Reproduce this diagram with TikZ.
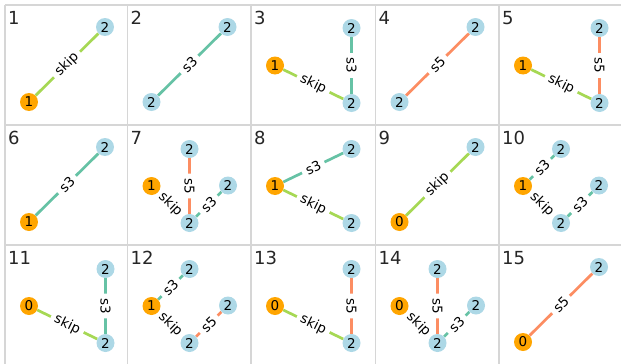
\documentclass[tikz,border=0pt]{standalone}
\usepackage{fontspec}
\setmainfont{DejaVu Sans}
\usetikzlibrary{backgrounds}
\definecolor{op-skip}{HTML}{A6D854}
\definecolor{op-sthree}{HTML}{66C2A5}
\definecolor{op-sfive}{HTML}{FC8D62}
\definecolor{nd-in}{HTML}{FFA500}
\definecolor{nd-hid}{HTML}{ADD8E6}
\definecolor{grid-gray}{HTML}{D6D6D6}

\tikzset{
  vtx/.style={circle, minimum size=18pt, inner sep=0pt, font=\fontsize{13.5}{13.5}\selectfont},
  inp/.style={vtx, fill=nd-in},
  hid/.style={vtx, fill=nd-hid},
  elab/.style={sloped, fill=white, text=black, inner xsep=4.5pt, inner ysep=1.5pt,
    rounded corners=3pt, font=\fontsize{13.5}{13.5}\selectfont},
  eskip/.style={line width=2.7pt, op-skip},
  esthree/.style={line width=2.7pt, op-sthree},
  esfive/.style={line width=2.7pt, op-sfive},
  num/.style={anchor=base west, inner sep=0pt, text=black!85, font=\fontsize{18}{18}\selectfont},
  gridline/.style={line width=1.6pt, grid-gray}
}

\begin{document}
\begin{tikzpicture}[x=1pt, y=-1pt]
    \useasboundingbox (0,0) rectangle (621,364);
    \begin{pgfonlayer}{background}
        \foreach \x in {5,127.5,251,375.5,499}
            \draw[gridline] (\x,5) -- (\x,364);
        \foreach \y in {5,125,245}
            \draw[gridline] (5,\y) -- (621,\y);
    \end{pgfonlayer}

    % row 1
    \begin{scope}[shift={(5,5)}]
        \node[num] at (3,19) {1};
        \node[inp] (c1a) at (24,97) {1};
        \node[hid] (c1b) at (100,22) {2};
        \begin{pgfonlayer}{background}
            \draw[eskip] (c1a) -- node[elab] {skip} (c1b);
        \end{pgfonlayer}
    \end{scope}
    \begin{scope}[shift={(127.5,5)}]
        \node[num] at (3,19) {2};
        \node[hid] (c2a) at (24,97) {2};
        \node[hid] (c2b) at (100,22) {2};
        \begin{pgfonlayer}{background}
            \draw[esthree] (c2a) -- node[elab] {s3} (c2b);
        \end{pgfonlayer}
    \end{scope}
    \begin{scope}[shift={(251,5)}]
        \node[num] at (3,19) {3};
        \node[inp] (c3a) at (24,60.5) {1};
        \node[hid] (c3b) at (100.5,23) {2};
        \node[hid] (c3c) at (100.5,98) {2};
        \begin{pgfonlayer}{background}
            \draw[eskip] (c3a) -- node[elab] {skip} (c3c);
            \draw[esthree] (c3b) -- node[elab] {s3} (c3c);
        \end{pgfonlayer}
    \end{scope}
    \begin{scope}[shift={(375.5,5)}]
        \node[num] at (3,19) {4};
        \node[hid] (c4a) at (24,97) {2};
        \node[hid] (c4b) at (100,22) {2};
        \begin{pgfonlayer}{background}
            \draw[esfive] (c4a) -- node[elab] {s5} (c4b);
        \end{pgfonlayer}
    \end{scope}
    \begin{scope}[shift={(499,5)}]
        \node[num] at (3,19) {5};
        \node[inp] (c5a) at (24,60.5) {1};
        \node[hid] (c5b) at (100.5,23) {2};
        \node[hid] (c5c) at (100.5,98) {2};
        \begin{pgfonlayer}{background}
            \draw[eskip] (c5a) -- node[elab] {skip} (c5c);
            \draw[esfive] (c5b) -- node[elab] {s5} (c5c);
        \end{pgfonlayer}
    \end{scope}

    % row 2
    \begin{scope}[shift={(5,125)}]
        \node[num] at (3,19) {6};
        \node[inp] (c6a) at (24,97) {1};
        \node[hid] (c6b) at (100,22) {2};
        \begin{pgfonlayer}{background}
            \draw[esthree] (c6a) -- node[elab] {s3} (c6b);
        \end{pgfonlayer}
    \end{scope}
    \begin{scope}[shift={(127.5,125)}]
        \node[num] at (3,19) {7};
        \node[inp] (c7a) at (24,61) {1};
        \node[hid] (c7b) at (62,24) {2};
        \node[hid] (c7c) at (100.5,60.5) {2};
        \node[hid] (c7d) at (62,98) {2};
        \begin{pgfonlayer}{background}
            \draw[eskip] (c7a) -- node[elab] {skip} (c7d);
            \draw[esfive] (c7b) -- node[elab] {s5} (c7d);
            \draw[esthree] (c7d) -- node[elab] {s3} (c7c);
        \end{pgfonlayer}
    \end{scope}
    \begin{scope}[shift={(251,125)}]
        \node[num] at (3,19) {8};
        \node[inp] (c8a) at (24,61) {1};
        \node[hid] (c8b) at (100.5,24) {2};
        \node[hid] (c8c) at (100.5,98) {2};
        \begin{pgfonlayer}{background}
            \draw[esthree] (c8a) -- node[elab] {s3} (c8b);
            \draw[eskip] (c8a) -- node[elab] {skip} (c8c);
        \end{pgfonlayer}
    \end{scope}
    \begin{scope}[shift={(375.5,125)}]
        \node[num] at (3,19) {9};
        \node[inp] (c9a) at (24,97) {0};
        \node[hid] (c9b) at (100,22) {2};
        \begin{pgfonlayer}{background}
            \draw[eskip] (c9a) -- node[elab] {skip} (c9b);
        \end{pgfonlayer}
    \end{scope}
    \begin{scope}[shift={(499,125)}]
        \node[num] at (3,19) {10};
        \node[inp] (c10a) at (24,61) {1};
        \node[hid] (c10b) at (62,24) {2};
        \node[hid] (c10c) at (100,60.5) {2};
        \node[hid] (c10d) at (62,98) {2};
        \begin{pgfonlayer}{background}
            \draw[esthree] (c10a) -- node[elab] {s3} (c10b);
            \draw[eskip] (c10a) -- node[elab] {skip} (c10d);
            \draw[esthree] (c10d) -- node[elab] {s3} (c10c);
        \end{pgfonlayer}
    \end{scope}

    % row 3
    \begin{scope}[shift={(5,245)}]
        \node[num] at (3,19) {11};
        \node[inp] (c11a) at (24,61) {0};
        \node[hid] (c11b) at (100.5,24) {2};
        \node[hid] (c11c) at (100.5,98) {2};
        \begin{pgfonlayer}{background}
            \draw[eskip] (c11a) -- node[elab] {skip} (c11c);
            \draw[esthree] (c11b) -- node[elab] {s3} (c11c);
        \end{pgfonlayer}
    \end{scope}
    \begin{scope}[shift={(127.5,245)}]
        \node[num] at (3,19) {12};
        \node[inp] (c12a) at (24,61) {1};
        \node[hid] (c12b) at (62,24) {2};
        \node[hid] (c12c) at (100.5,60.5) {2};
        \node[hid] (c12d) at (62,98) {2};
        \begin{pgfonlayer}{background}
            \draw[esthree] (c12a) -- node[elab] {s3} (c12b);
            \draw[eskip] (c12a) -- node[elab] {skip} (c12d);
            \draw[esfive] (c12d) -- node[elab] {s5} (c12c);
        \end{pgfonlayer}
    \end{scope}
    \begin{scope}[shift={(251,245)}]
        \node[num] at (3,19) {13};
        \node[inp] (c13a) at (24,61) {0};
        \node[hid] (c13b) at (100.5,24) {2};
        \node[hid] (c13c) at (100.5,98) {2};
        \begin{pgfonlayer}{background}
            \draw[eskip] (c13a) -- node[elab] {skip} (c13c);
            \draw[esfive] (c13b) -- node[elab] {s5} (c13c);
        \end{pgfonlayer}
    \end{scope}
    \begin{scope}[shift={(375.5,245)}]
        \node[num] at (3,19) {14};
        \node[inp] (c14a) at (24,61) {0};
        \node[hid] (c14b) at (62,24) {2};
        \node[hid] (c14c) at (100.5,60.5) {2};
        \node[hid] (c14d) at (62,98) {2};
        \begin{pgfonlayer}{background}
            \draw[eskip] (c14a) -- node[elab] {skip} (c14d);
            \draw[esfive] (c14b) -- node[elab] {s5} (c14d);
            \draw[esthree] (c14d) -- node[elab] {s3} (c14c);
        \end{pgfonlayer}
    \end{scope}
    \begin{scope}[shift={(499,245)}]
        \node[num] at (3,19) {15};
        \node[inp] (c15a) at (24,97) {0};
        \node[hid] (c15b) at (100,22) {2};
        \begin{pgfonlayer}{background}
            \draw[esfive] (c15a) -- node[elab] {s5} (c15b);
        \end{pgfonlayer}
    \end{scope}
\end{tikzpicture}
\end{document}
